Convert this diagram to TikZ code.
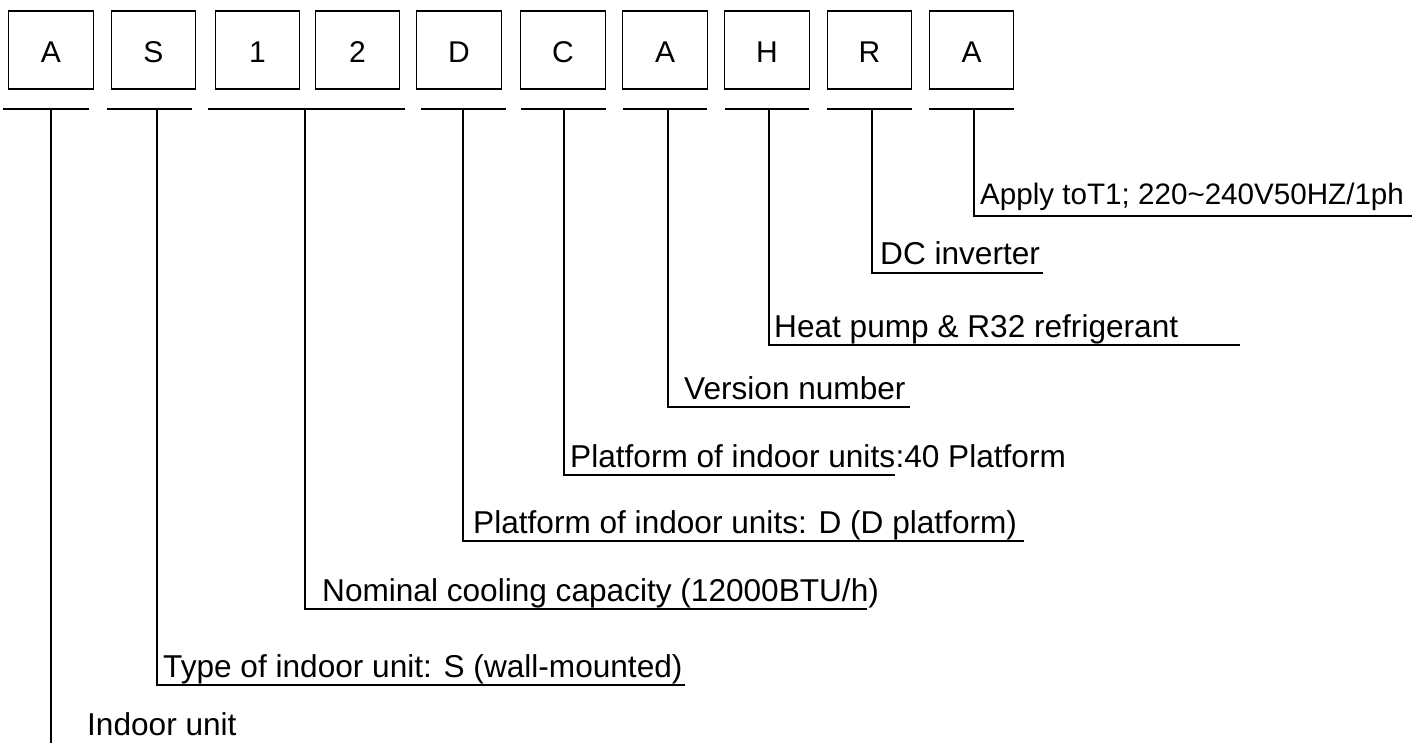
\documentclass[tikz,border=0pt]{standalone}
\usepackage{fontspec}
\setmainfont{Liberation Sans}
\begin{document}
\begin{tikzpicture}[x=1pt,y=-1pt,
  letterbox/.style={draw, line width=1.3pt, minimum width=84.5pt, minimum height=78pt, inner sep=0pt},
  boxtext/.style={anchor=base, inner sep=0pt, font=\fontsize{30}{30}\selectfont},
  lbl/.style={anchor=base west, inner sep=0pt, font=\fontsize{31.6}{32}\selectfont},
  lblsmall/.style={anchor=base west, inner sep=0pt, font=\fontsize{29.6}{30}\selectfont},
  conn/.style={line width=1.6pt},
  seg/.style={line width=1.6pt}]
\useasboundingbox (0,0) rectangle (1421,743);
% code boxes
\node[letterbox] (b1) at (51,50) {};
\node[letterbox] (b2) at (153.5,50) {};
\node[letterbox] (b3) at (257.5,50) {};
\node[letterbox] (b4) at (357.5,50) {};
\node[letterbox] (b5) at (459,50) {};
\node[letterbox] (b6) at (563,50) {};
\node[letterbox] (b7) at (665,50) {};
\node[letterbox] (b8) at (767,50) {};
\node[letterbox] (b9) at (869.5,50) {};
\node[letterbox] (b10) at (971.5,50) {};
% letters in boxes
\node[boxtext] (k1) at (51,63) {A};
\node[boxtext] (k2) at (153.5,63) {S};
\node[boxtext] (k3) at (257.5,63) {1};
\node[boxtext] (k4) at (357.5,63) {2};
\node[boxtext] (k5) at (459,63) {D};
\node[boxtext] (k6) at (563,63) {C};
\node[boxtext] (k7) at (665,63) {A};
\node[boxtext] (k8) at (767,63) {H};
\node[boxtext] (k9) at (869.5,63) {R};
\node[boxtext] (k10) at (971.5,63) {A};
% segment lines under boxes
\coordinate (s1a) at (3,109);   \coordinate (s1b) at (89,109);
\coordinate (s2a) at (107,109); \coordinate (s2b) at (192,109);
\coordinate (s3a) at (208,109); \coordinate (s3b) at (405,109);
\coordinate (s4a) at (421,109); \coordinate (s4b) at (506,109);
\coordinate (s5a) at (521,109); \coordinate (s5b) at (606,109);
\coordinate (s6a) at (623,109); \coordinate (s6b) at (707,109);
\coordinate (s7a) at (725,109); \coordinate (s7b) at (809,109);
\coordinate (s8a) at (827,109); \coordinate (s8b) at (912,109);
\coordinate (s9a) at (929,109); \coordinate (s9b) at (1014,109);
\foreach \i in {1,...,9} {\draw[seg] (s\i a) -- (s\i b);}
% tick points
\coordinate (t1) at (51,109);
\coordinate (t2) at (157,109);
\coordinate (t3) at (305,109);
\coordinate (t4) at (463,109);
\coordinate (t5) at (564,109);
\coordinate (t6) at (668,109);
\coordinate (t7) at (769,109);
\coordinate (t8) at (872,109);
\coordinate (t9) at (974,109);
% corners and ends
\coordinate (c1) at (51,743);
\coordinate (c2) at (157,685);  \coordinate (e2) at (685,685);
\coordinate (c3) at (305,609);  \coordinate (e3) at (867,609);
\coordinate (c4) at (463,541);  \coordinate (e4) at (1024,541);
\coordinate (c5) at (564,475);
\coordinate (c6) at (668,407);  \coordinate (e6) at (910,407);
\coordinate (c7) at (769,345);  \coordinate (e7) at (1240,345);
\coordinate (c8) at (872,273);  \coordinate (e8) at (1043,273);
\coordinate (c9) at (974,216);  \coordinate (e9) at (1412,216);
% labels
\node[lbl] (l1) at (87,735) {Indoor unit};
\node[lbl] (l2) at (163,677) {Type of indoor unit: S (wall-mounted)};
\node[lbl] (l3) at (322,601) {Nominal cooling capacity (12000BTU/h)};
\node[lbl] (l4) at (473,533) {Platform of indoor units: D (D platform)};
\node[lbl] (l5) at (570,467) {Platform of indoor units};
\node[lbl] (l5b) at (l5.base east) {:40 Platform};
\node[lbl] (l6) at (684,399) {Version number};
\node[lbl] (l7) at (774,337) {Heat pump \& R32 refrigerant};
\node[lbl] (l8) at (880,265) {DC inverter};
\node[lblsmall] (l9) at (980,205) {Apply toT1; 220\string~240V50HZ/1ph};
\coordinate (e5) at (c5 -| l5.east);
% connectors
\draw[conn] (t1) -- (c1);
\foreach \i in {2,...,9} {\draw[conn] (t\i) -- (c\i) -- (e\i);}
\end{tikzpicture}
\end{document}
